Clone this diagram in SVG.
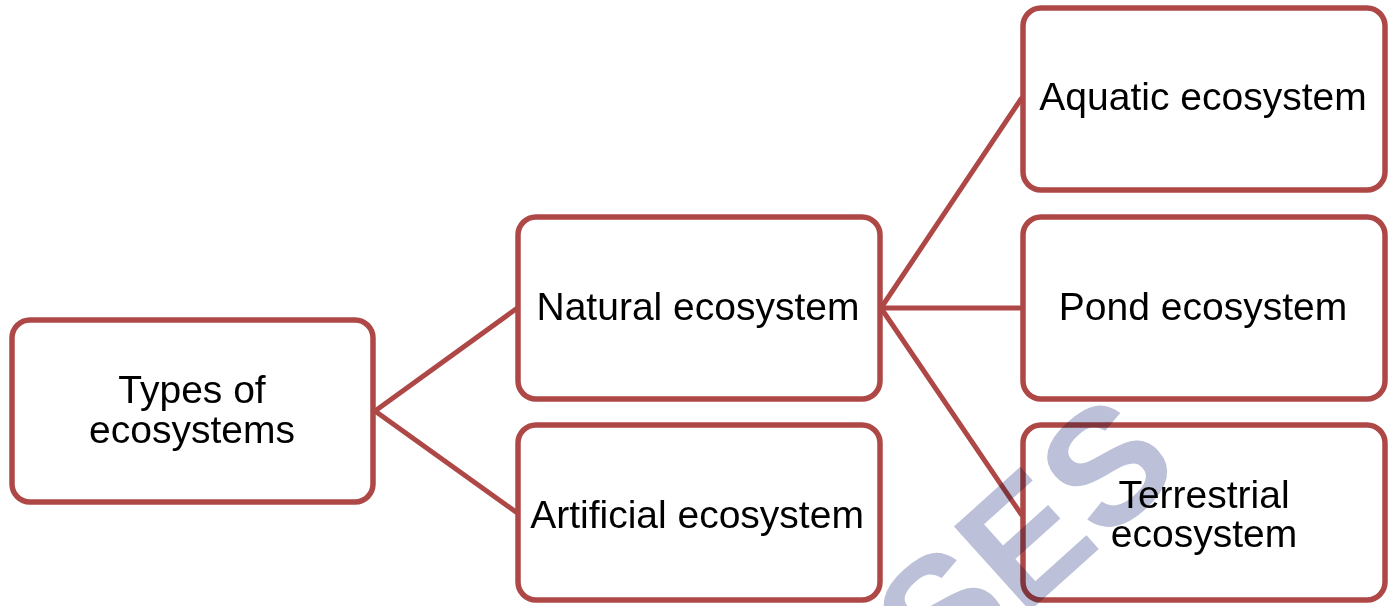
<svg xmlns="http://www.w3.org/2000/svg" width="1394" height="606" viewBox="0 0 1394 606">
<style>
.box{fill:#ffffff;stroke:#ae4846;stroke-width:5.5}
.lbl{font-family:"Liberation Sans",Arial,sans-serif;font-size:39px;fill:#000000;text-anchor:middle}
.con{stroke:#ae4846;stroke-width:5;fill:none;stroke-linecap:round}
.wm{font-family:"Liberation Sans",Arial,sans-serif;font-weight:bold;font-size:165px;fill:#bcc0d8;mix-blend-mode:multiply}
</style>
<rect width="1394" height="606" fill="#ffffff"/>
<g id="connectors">
<line class="con" x1="375" y1="411" x2="516" y2="309"/>
<line class="con" x1="375" y1="411" x2="516" y2="512"/>
<line class="con" x1="881" y1="308" x2="1021" y2="99"/>
<line class="con" x1="881" y1="308" x2="1021" y2="308"/>
<line class="con" x1="881" y1="308" x2="1021" y2="514"/>
</g>
<g id="types">
<rect class="box" x="12" y="320" width="361" height="182" rx="18"/>
<text class="lbl" x="192" y="403">Types of</text>
<text class="lbl" x="192" y="443">ecosystems</text>
</g>
<g id="natural">
<rect class="box" x="518" y="217" width="362" height="182" rx="18"/>
<text class="lbl" x="698" y="320">Natural ecosystem</text>
</g>
<g id="artificial">
<rect class="box" x="518" y="425" width="362" height="175" rx="18"/>
<text class="lbl" x="697" y="528">Artificial ecosystem</text>
</g>
<g id="aquatic">
<rect class="box" x="1023" y="8" width="362" height="182" rx="18"/>
<text class="lbl" x="1203" y="110">Aquatic ecosystem</text>
</g>
<g id="pond">
<rect class="box" x="1023" y="217" width="362" height="182" rx="18"/>
<text class="lbl" x="1203" y="320">Pond ecosystem</text>
</g>
<g id="terrestrial">
<rect class="box" x="1023" y="425" width="362" height="175" rx="18"/>
<text class="lbl" x="1204" y="508">Terrestrial</text>
<text class="lbl" x="1204" y="547">ecosystem</text>
</g>
<text class="wm" transform="translate(940,692) rotate(-42)">SES</text>
</svg>
